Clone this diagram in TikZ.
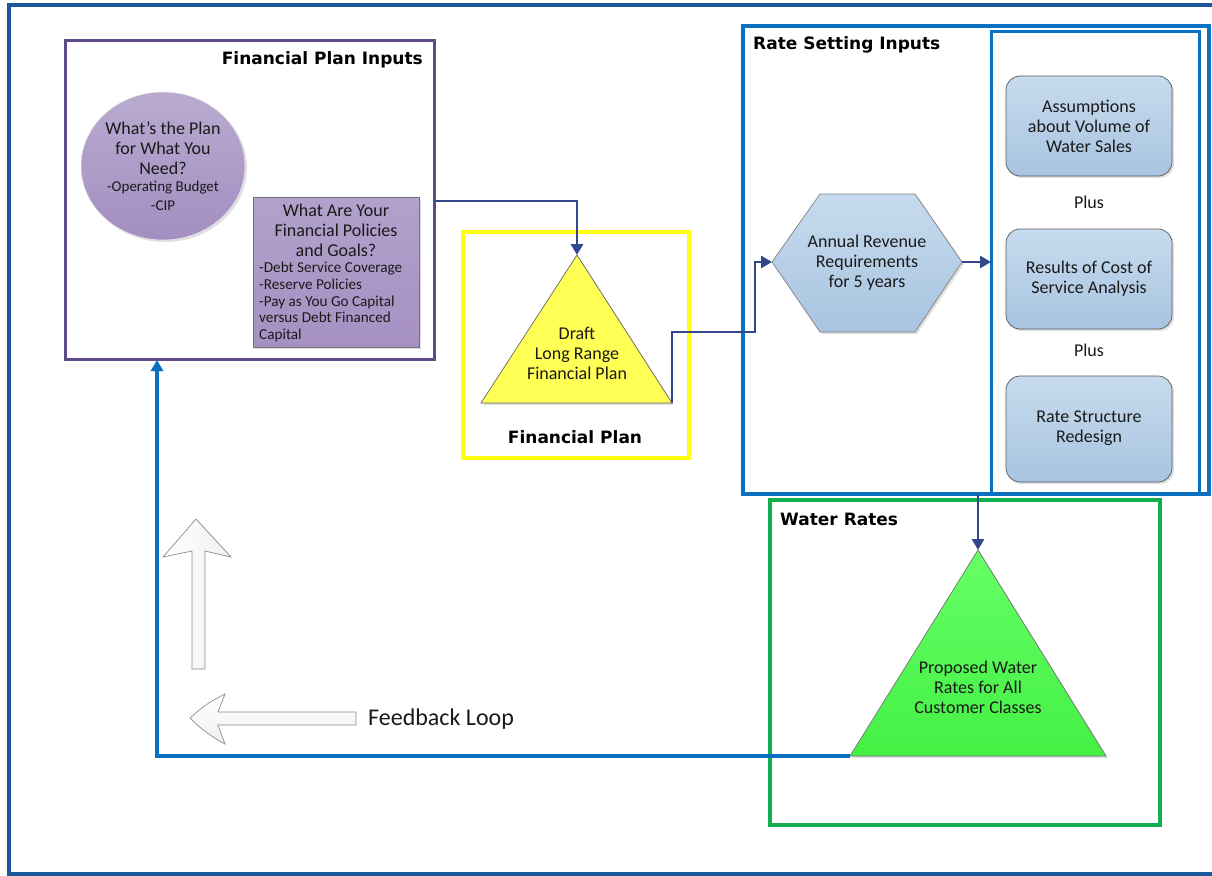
\documentclass[tikz,border=0pt]{standalone}
\usepackage{fontspec}
\setmainfont{Carlito}
\newfontfamily\ttlfont{DejaVu Sans}
\usetikzlibrary{arrows.meta,shadows,shapes.geometric,calc}
\definecolor{frameblue}{HTML}{1B579B}
\definecolor{fpurple}{HTML}{5F4B8B}
\definecolor{navy}{HTML}{34468C}
\definecolor{rblue}{HTML}{0A70C2}
\definecolor{gframe}{HTML}{10B050}
\definecolor{yframe}{HTML}{FFFF10}
\definecolor{circtop}{HTML}{B9ABD0}
\definecolor{circbot}{HTML}{A38EC1}
\definecolor{prtop}{HTML}{B1A1CB}
\definecolor{prbot}{HTML}{A690C3}
\definecolor{bltop}{HTML}{C7DBEE}
\definecolor{blbot}{HTML}{A8C4E0}
\definecolor{ytri}{HTML}{FFFF55}
\definecolor{gtop}{HTML}{66FF66}
\definecolor{gbot}{HTML}{44F044}
\definecolor{txtc}{HTML}{1A1A1A}
\begin{document}
\begin{tikzpicture}[x=1pt,y=-1pt,
  frm/.style={draw, fill=none, inner sep=0pt, outer sep=0pt},
  ttl/.style={font=\ttlfont\bfseries\fontsize{17}{20}\selectfont, text=black, inner sep=0pt},
  txt/.style={font=\fontsize{18}{20}\selectfont, align=center, inner sep=0pt, text=txtc},
  sml/.style={font=\fontsize{15}{19}\selectfont, align=center, inner sep=0pt, text=txtc},
  shd/.style={drop shadow={shadow xshift=2pt, shadow yshift=-2pt, opacity=0.25}},
  rbox/.style={draw=black!65, line width=0.7pt, rounded corners=14pt, top color=bltop, bottom color=blbot,
     minimum width=166pt, inner sep=0pt, outer sep=0pt, shd},
  conn/.style={draw=navy, line width=2.9pt, -{Triangle[length=11pt,width=12pt]}},
  fbconn/.style={draw=rblue, line width=3.4pt, -{Triangle[length=11pt,width=12pt]}},
  blk/.style={draw=black!45, line width=0.7pt, left color=white, right color=black!6}
]
\useasboundingbox (0,0) rectangle (1212,875);
\clip (0,0) rectangle (1212,875);
\fill[white] (0,0) rectangle (1212,875);
% outer frame
\draw[frameblue, line width=4pt] (8.5,5) rectangle (1240,873.5);

% ---------- Financial Plan Inputs ----------
\node[frm, draw=fpurple, line width=3pt, minimum width=369pt, minimum height=318pt] (fpi) at (249.5,200) {};
\node[ttl, anchor=east] (fpit) at (423,60) {Financial Plan Inputs};

\node[ellipse, draw=black!8, line width=0.5pt, minimum width=164pt, minimum height=148pt, top color=circtop, bottom color=circbot, shd] (plan) at (163,166) {};
\node[txt] (plant) at (163,148) {What’s the Plan\\for What You\\Need?};
\node[sml] (plans) at (163,195.5) {-Operating Budget\\-CIP};

\node[draw=black!55, line width=0.8pt, minimum width=166pt, minimum height=150pt, top color=prtop, bottom color=prbot, inner sep=0pt, shd] (pol) at (336,272) {};
\node[txt] (polt) at (336,230) {What Are Your\\Financial Policies\\and Goals?};
\node[sml, font=\fontsize{15.2}{16.75}\selectfont, align=left, anchor=west] (pols) at (259,302) {-Debt Service Coverage\\-Reserve Policies\\-Pay as You Go Capital\\versus Debt Financed\\Capital};

% ---------- Financial Plan ----------
\node[frm, draw=yframe, line width=4pt, minimum width=226pt, minimum height=226pt] (fp) at (576,345) {};
\node[ttl] (fpt) at (575,437) {Financial Plan};
\coordinate (dft-top) at (577,255);
\coordinate (dft-bl) at (481,403);
\coordinate (dft-br) at (672,403);
\path[draw=black!60, line width=0.7pt, fill=ytri, shd] (dft-top) -- (dft-bl) -- (dft-br) -- cycle;
\node[txt] (dft) at (577,353) {Draft\\Long Range\\Financial Plan};

% ---------- Rate Setting Inputs ----------
\node[frm, draw=rblue, line width=4pt, minimum width=466pt, minimum height=468pt] (rsi) at (976,260) {};
\node[ttl, anchor=west] (rsit) at (753,45) {Rate Setting Inputs};
\node[frm, draw=rblue, line width=3pt, minimum width=208pt, minimum height=461pt] (rin) at (1095,262.5) {};

\coordinate (hx-w) at (772,262);
\coordinate (hx-nw) at (820,194);
\coordinate (hx-ne) at (915,194);
\coordinate (hx-e) at (962,262);
\coordinate (hx-se) at (915,332);
\coordinate (hx-sw) at (820,332);
\path[draw=black!50, line width=0.7pt, top color=bltop, bottom color=blbot, shd] (hx-w) -- (hx-nw) -- (hx-ne) -- (hx-e) -- (hx-se) -- (hx-sw) -- cycle;
\node[txt] (hex) at (867,263) {Annual Revenue\\Requirements\\for 5 years};

\node[rbox, minimum height=100pt] (ass) at (1089,126) {};
\node[txt] (asst) at (1089,126) {Assumptions\\about Volume of\\Water Sales};
\node[txt] (plus1) at (1089,202) {Plus};
\node[rbox, minimum height=100pt] (cos) at (1089,279) {};
\node[txt] (cost) at (1089,279) {Results of Cost of\\Service Analysis};
\node[txt] (plus2) at (1089,350) {Plus};
\node[rbox, minimum height=106pt] (rsd) at (1089,429) {};
\node[txt] (rsdt) at (1089,428) {Rate Structure\\Redesign};

% ---------- Water Rates ----------
\node[frm, draw=gframe, line width=4pt, minimum width=390pt, minimum height=325pt] (wr) at (965,662.5) {};
\node[ttl, anchor=west] (wrt) at (780,519) {Water Rates};
\coordinate (gt-top) at (978,550);
\coordinate (gt-bl) at (850,756);
\coordinate (gt-br) at (1106,756);
\path[draw=black!55, line width=0.7pt, top color=gtop, bottom color=gbot, shd] (gt-top) -- (gt-bl) -- (gt-br) -- cycle;
\node[txt] (gt) at (978,687) {Proposed Water\\Rates for All\\Customer Classes};

% ---------- connectors ----------
\coordinate (fpi-out) at (434,201);
\draw[conn] (fpi-out) -| (dft-top);
\coordinate (j1) at (755,332);
\draw[conn] (dft-br) |- (j1) |- (hx-w);
\draw[conn] (hx-e) -- (hx-e -| rin.west);
\draw[conn] (gt-top |- rsi.south) -- (gt-top);
\coordinate (fb-end) at (157,360);
\draw[fbconn] (gt-bl) -| (fb-end);

% ---------- feedback block arrows ----------
\path[blk] (196,519) -- (231,557) -- (205,551) -- (205,669) -- (192,669) -- (192,551) -- (163,557) -- cycle;
\path[blk, top color=white, bottom color=black!6] (190,718) to[bend left=8] (225,694) -- (218,712) -- (356,712) -- (356,725) -- (218,725) -- (225,744) to[bend left=8] cycle;
\node[anchor=west, inner sep=0pt, font=\fontsize{24}{26}\selectfont, text=txtc] (fbl) at (368,719) {Feedback Loop};
\end{tikzpicture}
\end{document}
